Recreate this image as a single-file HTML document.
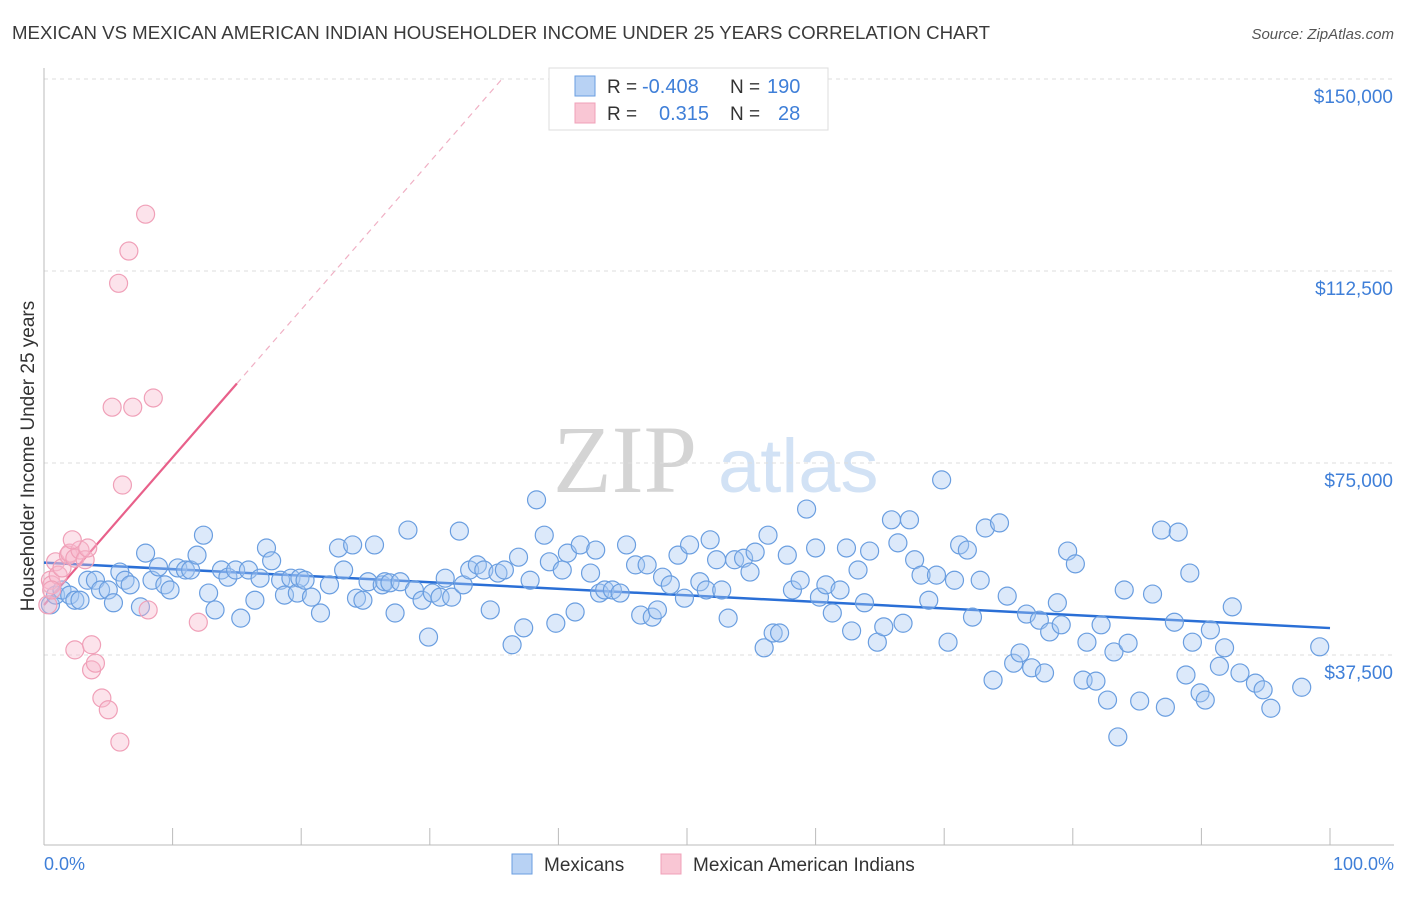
<!DOCTYPE html>
<html><head><meta charset="utf-8"><style>
body{margin:0;background:#fff;font-family:"Liberation Sans",sans-serif;}
svg text{font-family:"Liberation Sans",sans-serif;}
</style></head><body>
<svg id="chart" width="1406" height="892" viewBox="0 0 1406 892" xmlns="http://www.w3.org/2000/svg">
<text x="12" y="39" font-size="18" fill="#3a3a3a" textLength="978" lengthAdjust="spacingAndGlyphs">MEXICAN VS MEXICAN AMERICAN INDIAN HOUSEHOLDER INCOME UNDER 25 YEARS CORRELATION CHART</text>
<text x="1394" y="39" font-size="15" fill="#555" text-anchor="end" font-style="italic">Source: ZipAtlas.com</text>
<g>
<text x="553" y="492" font-size="96" fill="#d4d4d4" style="font-family:'Liberation Serif',serif">ZIP</text>
<text x="718" y="492" font-size="76" fill="#d2e2f5">atlas</text>
</g>
<g id="grid"></g>
<g id="axes"></g>
<g id="lines"></g>
<g id="pts"></g>
<text transform="translate(34,456) rotate(-90)" font-size="19" fill="#333" text-anchor="middle">Householder Income Under 25 years</text>
<text x="44" y="870" font-size="18" fill="#3f7fd8">0.0%</text>
<text x="1394" y="870" font-size="18" fill="#3f7fd8" text-anchor="end">100.0%</text>
<g>
<rect x="549" y="68" width="279" height="62" fill="#fff" stroke="#ddd"/>
<rect x="575" y="76" width="20" height="20" fill="#b8d2f4" stroke="#6a9ee0"/>
<rect x="575" y="103" width="20" height="20" fill="#f9c6d4" stroke="#f0a0b8"/>
<text x="607" y="93" font-size="19" fill="#333">R = </text><text x="642" y="93" font-size="20" fill="#3f7fd8">-0.408</text>
<text x="730" y="93" font-size="19" fill="#333">N = </text><text x="767" y="93" font-size="20" fill="#3f7fd8">190</text>
<text x="607" y="120" font-size="19" fill="#333">R = </text><text x="659" y="120" font-size="20" fill="#3f7fd8">0.315</text>
<text x="730" y="120" font-size="19" fill="#333">N = </text><text x="778" y="120" font-size="20" fill="#3f7fd8">28</text>
</g>
<g>
<rect x="512" y="854" width="20" height="20" fill="#b8d2f4" stroke="#6a9ee0"/>
<text x="544" y="871" font-size="19" fill="#333">Mexicans</text>
<rect x="661" y="854" width="20" height="20" fill="#f9c6d4" stroke="#f0a0b8"/>
<text x="693" y="871" font-size="19" fill="#333">Mexican American Indians</text>
</g>
</svg>
<script>
const yTicks=[37.5,75,112.5,150];
const yTickLabels=["$37,500","$75,000","$112,500","$150,000"];
const xTicks=[0,10,20,30,40,50,60,70,80,90,100];
const blueX=[0.5,0.9,1.4,2.0,2.4,2.8,3.4,4.0,4.4,5.0,5.4,5.9,6.3,6.7,7.5,7.9,8.4,8.9,9.4,9.8,10.4,11.0,11.4,11.9,12.4,12.8,13.3,13.8,14.3,14.9,15.3,15.9,16.4,16.8,17.3,17.7,18.4,18.7,19.2,19.7,19.9,20.3,20.8,21.5,22.2,22.9,23.3,24.0,24.3,24.8,25.2,25.7,26.3,26.5,26.9,27.3,27.7,28.3,28.8,29.4,29.9,30.2,30.8,31.2,31.7,32.3,32.6,33.1,33.7,34.2,34.7,35.3,35.8,36.4,36.9,37.3,37.8,38.3,38.9,39.3,39.8,40.3,40.7,41.3,41.7,42.5,42.9,43.2,43.6,44.2,44.8,45.3,46.0,46.4,46.9,47.3,47.7,48.1,48.7,49.3,49.8,50.2,51.0,51.5,51.8,52.3,52.7,53.2,53.7,54.4,54.9,55.3,56.0,56.3,56.7,57.2,57.8,58.2,58.8,59.3,60.0,60.3,60.8,61.3,61.9,62.4,62.8,63.3,63.8,64.2,64.8,65.3,65.9,66.4,66.8,67.3,67.7,68.2,68.8,69.4,69.8,70.3,70.8,71.2,71.8,72.2,72.8,73.2,73.8,74.3,74.9,75.4,75.9,76.4,76.8,77.4,77.8,78.2,78.8,79.1,79.6,80.2,80.8,81.1,81.8,82.2,82.7,83.2,83.5,84.0,84.3,85.2,86.2,86.9,87.2,87.9,88.2,88.8,89.1,89.3,89.9,90.3,90.7,91.4,91.8,92.4,93.0,94.2,94.8,95.4,97.8,99.2];
const blueY=[47.3,49.2,50.2,49.2,48.2,48.2,52.1,52.1,50.2,50.2,47.7,53.7,52.1,51.2,46.9,57.4,52.1,54.7,51.2,50.2,54.5,54.1,54.1,57.0,60.9,49.6,46.3,54.1,52.7,54.1,44.7,54.1,48.2,52.5,58.4,55.9,52.1,49.2,52.5,49.6,52.5,52.1,48.8,45.7,51.2,58.4,54.1,59.0,48.6,48.2,51.8,59.0,51.2,51.8,51.6,45.7,51.8,61.9,50.2,48.2,41.0,49.6,48.8,52.5,48.8,61.7,51.2,54.1,55.1,54.1,46.3,53.5,54.1,39.5,56.6,42.8,52.1,67.8,60.9,55.7,43.7,54.1,57.4,45.9,59.0,53.5,58.0,49.6,50.2,50.2,49.6,59.0,55.1,45.3,55.1,44.9,46.3,52.7,51.2,57.0,48.6,59.0,51.8,50.2,60.0,56.1,50.2,44.7,56.1,56.4,53.7,57.6,38.9,60.9,41.8,41.8,57.0,50.2,52.1,66.0,58.4,48.8,51.2,45.7,50.2,58.4,42.2,54.1,47.7,57.8,40.0,43.0,63.9,59.4,43.7,63.9,56.1,53.1,48.2,53.1,71.7,40.0,52.1,59.0,58.0,44.9,52.1,62.3,32.6,63.3,49.0,35.9,37.9,45.5,35.0,44.3,34.0,42.0,47.7,43.4,57.8,55.3,32.6,40.0,32.4,43.4,28.7,38.1,21.5,50.2,39.8,28.5,49.4,61.9,27.3,43.9,61.5,33.6,53.5,40.0,30.1,28.7,42.4,35.3,38.9,46.9,34.0,32.0,30.7,27.1,31.2,39.1];
const pinkX=[0.3,0.5,0.6,0.9,1.1,1.4,1.9,2.0,2.4,2.8,3.2,3.4,2.2,2.4,3.7,3.7,4.0,4.5,5.0,5.3,5.8,5.9,6.1,6.6,6.9,7.9,8.1,8.5,12.0,0.6];
const pinkY=[47.3,52.1,51.2,55.7,53.1,54.5,57.0,57.4,56.4,58.0,56.1,58.4,60.0,38.5,39.5,34.6,35.9,29.1,26.8,85.9,110.1,20.5,70.7,116.4,85.9,123.6,46.3,87.7,43.9,50.2];
const NS='http://www.w3.org/2000/svg';
const X0=44,X1=1330,YB=847,PXK=5.12;
function sx(p){return X0+p*(X1-X0)/100;}
function sy(v){return YB-v*PXK;}
function mk(tag,attrs,parent){const e=document.createElementNS(NS,tag);for(const k in attrs)e.setAttribute(k,attrs[k]);parent.appendChild(e);return e;}
const grid=document.getElementById('grid'),axes=document.getElementById('axes'),lines=document.getElementById('lines'),pts=document.getElementById('pts');
yTicks.forEach((t,i)=>{
 const l=mk('line',{x1:44,x2:1394,y1:sy(t),y2:sy(t),stroke:'#ddd','stroke-dasharray':'4,4'},grid);
 
 
 const tx=mk('text',{x:1393,y:sy(t)+24,'font-size':19,fill:'#3f7fd8','text-anchor':'end'},grid);
 tx.textContent=yTickLabels[i];
 
 
});
mk('line',{x1:44,x2:44,y1:68,y2:845,stroke:'#bbb'},axes);
mk('line',{x1:44,x2:1394,y1:845,y2:845,stroke:'#bbb'},axes);
xTicks.forEach(t=>{
 const l=mk('line',{x1:sx(t),x2:sx(t),y1:828,y2:845,stroke:'#bbb'},axes);
 
 
});
function reg(xs,ys){const n=xs.length;let mx=0,my=0;for(let i=0;i<n;i++){mx+=xs[i];my+=ys[i];}mx/=n;my/=n;let a=0,b=0;for(let i=0;i<n;i++){a+=(xs[i]-mx)*(ys[i]-my);b+=(xs[i]-mx)**2;}const s=a/b;return [my-s*mx,s];}
const rb=reg(blueX,blueY);
const bl=mk('line',{x1:sx(0),y1:sy(rb[0]),x2:sx(100),y2:sy(rb[0]+rb[1]*100),stroke:'#2a6fd6','stroke-width':2.5},lines);


const rp=reg(pinkX,pinkY);
const xEnd=Math.min(100,(150-rp[0])/rp[1]);
const pd=mk('line',{x1:sx(15),y1:sy(rp[0]+rp[1]*15),x2:sx(xEnd),y2:sy(rp[0]+rp[1]*xEnd),stroke:'#f0b0c4','stroke-width':1.2,'stroke-dasharray':'6,5'},lines);


const pl=mk('line',{x1:sx(0),y1:sy(rp[0]),x2:sx(15),y2:sy(rp[0]+rp[1]*15),stroke:'#e8608a','stroke-width':2.2},lines);


blueX.forEach((x,i)=>{
 const c=mk('circle',{cx:sx(x),cy:sy(blueY[i]),r:9,fill:'rgba(168,200,242,0.4)',stroke:'#6a9ee0','stroke-width':1.2},pts);
 
 
});
pinkX.forEach((x,i)=>{
 const c=mk('circle',{cx:sx(x),cy:sy(pinkY[i]),r:9,fill:'rgba(248,184,204,0.4)',stroke:'#f0a0b8','stroke-width':1.2},pts);
 
 
});
</script>
</body></html>
